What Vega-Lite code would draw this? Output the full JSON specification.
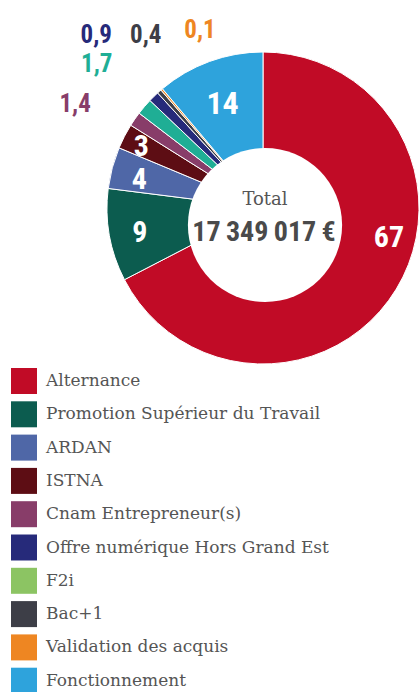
{
  "$schema": "https://vega.github.io/schema/vega-lite/v6.json",
  "width": 314,
  "height": 416,
  "autosize": {"type": "none"},
  "padding": {"left": 106, "top": 0, "right": 0, "bottom": 276},
  "background": "white",
  "config": {
    "view": {"stroke": null},
    "locale": {"number": {"decimal": ",", "thousands": "\u2009", "grouping": [3], "currency": ["", "\u2009€"]}},
    "text": {"font": "'Roboto Condensed', 'Noto Sans ExtraCondensed', 'Noto Sans Condensed', 'Open Sans Condensed', 'Liberation Sans Narrow', 'DejaVu Sans Condensed', Roboto, sans-serif"},
    "legend": {
      "orient": "none", "legendX": -95, "legendY": 368, "title": null,
      "symbolType": "square", "symbolSize": 676, "symbolStrokeWidth": 0,
      "labelFont": "DejaVu Serif", "labelFontSize": 17, "labelColor": "#555555",
      "labelOffset": 9, "rowPadding": 7.3, "labelLimit": 400, "padding": 0
    }
  },
  "data": {"values": [
    {"rang": 1, "cat": "Alternance", "part": 67.4, "valeur": 67},
    {"rang": 2, "cat": "Promotion Supérieur du Travail", "part": 9.6, "valeur": 9},
    {"rang": 3, "cat": "ARDAN", "part": 4.3, "valeur": 4},
    {"rang": 4, "cat": "ISTNA", "part": 2.6, "valeur": 3},
    {"rang": 5, "cat": "Cnam Entrepreneur(s)", "part": 1.5, "valeur": 1.4},
    {"rang": 6, "cat": "F2i", "part": 1.7, "valeur": 1.7},
    {"rang": 7, "cat": "Offre numérique Hors Grand Est", "part": 1.1, "valeur": 0.9},
    {"rang": 8, "cat": "Bac+1", "part": 0.45, "valeur": 0.4},
    {"rang": 9, "cat": "Validation des acquis", "part": 0.2, "valeur": 0.1},
    {"rang": 10, "cat": "Fonctionnement", "part": 11.15, "valeur": 14}
  ]},
  "layer": [
    {
      "mark": {"type": "arc", "outerRadius": 156, "innerRadius": 0, "stroke": "white", "strokeWidth": 1},
      "encoding": {
        "theta": {"field": "part", "type": "quantitative", "stack": true},
        "order": {"field": "rang", "type": "quantitative"},
        "color": {
          "field": "cat", "type": "nominal", "legend": null,
          "scale": {
            "domain": ["Alternance", "Promotion Supérieur du Travail", "ARDAN", "ISTNA", "Cnam Entrepreneur(s)", "F2i", "Offre numérique Hors Grand Est", "Bac+1", "Validation des acquis", "Fonctionnement"],
            "range": ["#c10b26", "#0c5c4f", "#4f67a7", "#5d0d14", "#883d69", "#1fae95", "#262a7a", "#3d3e47", "#ee8622", "#2ea3dc"]
          }
        }
      }
    },
    {
      "data": {"values": [{"trou": "centre"}]},
      "mark": {"type": "circle", "size": 23779, "fill": "white", "opacity": 1, "strokeWidth": 0, "xOffset": 2, "yOffset": 17},
      "encoding": {}
    },
    {
      "data": {"values": [{"libelle": "Total"}]},
      "mark": {"type": "text", "font": "DejaVu Serif", "fontSize": 18, "fill": "#555555", "dx": 2, "dy": -8, "align": "center", "baseline": "middle"},
      "encoding": {"text": {"field": "libelle"}}
    },
    {
      "data": {"values": [{"montant": 17349017}]},
      "mark": {"type": "text", "fontWeight": "bold", "fontSize": 28, "fill": "#4a4a4a", "dx": 1, "dy": 25, "align": "center", "baseline": "middle"},
      "encoding": {"text": {"field": "montant", "type": "quantitative", "format": "$,.0f"}}
    },
    {
      "mark": {"type": "square", "opacity": 0},
      "encoding": {
        "color": {
          "field": "cat", "type": "nominal",
          "scale": {
            "domain": ["Alternance", "Promotion Supérieur du Travail", "ARDAN", "ISTNA", "Cnam Entrepreneur(s)", "Offre numérique Hors Grand Est", "F2i", "Bac+1", "Validation des acquis", "Fonctionnement"],
            "range": ["#c10b26", "#0c5c4f", "#4f67a7", "#5d0d14", "#883d69", "#262a7a", "#8cc463", "#3d3e47", "#ee8622", "#2ea3dc"]
          }
        }
      }
    },
    {
      "mark": {"type": "text", "radius": 124, "dx": 20, "dy": -34, "fontWeight": "bold", "fontSize": 30, "fill": "white", "align": "center", "baseline": "middle"},
      "encoding": {"theta": {"field": "part", "type": "quantitative", "stack": true}, "order": {"field": "rang", "type": "quantitative"}, "text": {"condition": {"test": "datum.cat === 'Alternance'", "field": "valeur", "type": "quantitative", "format": ".1~f"}, "value": ""}}
    },
    {
      "mark": {"type": "text", "radius": 126, "dx": 1, "dy": 3, "fontWeight": "bold", "fontSize": 30, "fill": "white", "align": "center", "baseline": "middle"},
      "encoding": {"theta": {"field": "part", "type": "quantitative", "stack": true}, "order": {"field": "rang", "type": "quantitative"}, "text": {"condition": {"test": "datum.cat === 'Promotion Supérieur du Travail'", "field": "valeur", "type": "quantitative", "format": ".1~f"}, "value": ""}}
    },
    {
      "mark": {"type": "text", "radius": 127, "dx": -1, "dy": 5, "fontWeight": "bold", "fontSize": 30, "fill": "white", "align": "center", "baseline": "middle"},
      "encoding": {"theta": {"field": "part", "type": "quantitative", "stack": true}, "order": {"field": "rang", "type": "quantitative"}, "text": {"condition": {"test": "datum.cat === 'ARDAN'", "field": "valeur", "type": "quantitative", "format": ".1~f"}, "value": ""}}
    },
    {
      "mark": {"type": "text", "radius": 136, "dx": -1, "dy": 2, "fontWeight": "bold", "fontSize": 30, "fill": "white", "align": "center", "baseline": "middle"},
      "encoding": {"theta": {"field": "part", "type": "quantitative", "stack": true}, "order": {"field": "rang", "type": "quantitative"}, "text": {"condition": {"test": "datum.cat === 'ISTNA'", "field": "valeur", "type": "quantitative", "format": ".1~f"}, "value": ""}}
    },
    {
      "mark": {"type": "text", "radius": 112, "dx": -2, "dy": 1, "fontWeight": "bold", "fontSize": 32, "fill": "white", "align": "center", "baseline": "middle"},
      "encoding": {"theta": {"field": "part", "type": "quantitative", "stack": true}, "order": {"field": "rang", "type": "quantitative"}, "text": {"condition": {"test": "datum.cat === 'Fonctionnement'", "field": "valeur", "type": "quantitative", "format": ".1~f"}, "value": ""}}
    },
    {
      "mark": {"type": "text", "radius": 214, "dx": -12, "dy": 18, "fontWeight": "bold", "fontSize": 25, "fill": "#883d69", "align": "center", "baseline": "middle"},
      "encoding": {"theta": {"field": "part", "type": "quantitative", "stack": true}, "order": {"field": "rang", "type": "quantitative"}, "text": {"condition": {"test": "datum.cat === 'Cnam Entrepreneur(s)'", "field": "valeur", "type": "quantitative", "format": ".1~f"}, "value": ""}}
    },
    {
      "mark": {"type": "text", "radius": 220, "dx": 1, "dy": -1, "fontWeight": "bold", "fontSize": 25, "fill": "#1fae95", "align": "center", "baseline": "middle"},
      "encoding": {"theta": {"field": "part", "type": "quantitative", "stack": true}, "order": {"field": "rang", "type": "quantitative"}, "text": {"condition": {"test": "datum.cat === 'F2i'", "field": "valeur", "type": "quantitative", "format": ".1~f"}, "value": ""}}
    },
    {
      "mark": {"type": "text", "radius": 241, "dx": 2, "dy": -1, "fontWeight": "bold", "fontSize": 25, "fill": "#262a7a", "align": "center", "baseline": "middle"},
      "encoding": {"theta": {"field": "part", "type": "quantitative", "stack": true}, "order": {"field": "rang", "type": "quantitative"}, "text": {"condition": {"test": "datum.cat === 'Offre numérique Hors Grand Est'", "field": "valeur", "type": "quantitative", "format": ".1~f"}, "value": ""}}
    },
    {
      "mark": {"type": "text", "radius": 208, "dx": 21, "dy": -18, "fontWeight": "bold", "fontSize": 25, "fill": "#3d3e47", "align": "center", "baseline": "middle"},
      "encoding": {"theta": {"field": "part", "type": "quantitative", "stack": true}, "order": {"field": "rang", "type": "quantitative"}, "text": {"condition": {"test": "datum.cat === 'Bac+1'", "field": "valeur", "type": "quantitative", "format": ".1~f"}, "value": ""}}
    },
    {
      "mark": {"type": "text", "radius": 177, "dx": 52, "dy": -43, "fontWeight": "bold", "fontSize": 25, "fill": "#ee8622", "align": "center", "baseline": "middle"},
      "encoding": {"theta": {"field": "part", "type": "quantitative", "stack": true}, "order": {"field": "rang", "type": "quantitative"}, "text": {"condition": {"test": "datum.cat === 'Validation des acquis'", "field": "valeur", "type": "quantitative", "format": ".1~f"}, "value": ""}}
    }
  ],
  "resolve": {"scale": {"color": "independent"}, "legend": {"color": "independent"}}
}
